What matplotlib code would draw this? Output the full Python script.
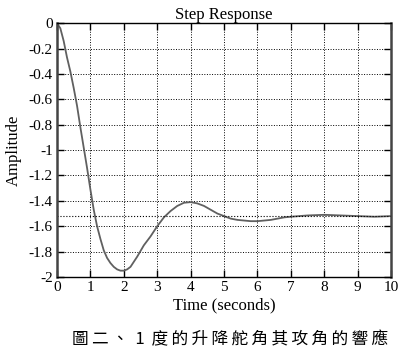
import matplotlib
matplotlib.use("Agg")
import matplotlib.pyplot as plt
from matplotlib.ticker import FormatStrFormatter

plt.rcParams['font.family'] = ['Liberation Serif', 'DejaVu Serif']
plt.rcParams['axes.unicode_minus'] = False

# step response samples
t = [0, 0.1, 0.2, 0.3, 0.4, 0.5, 0.6, 0.7, 0.8, 0.9, 1.0, 1.1, 1.2, 1.3, 1.4,
     1.5, 1.6, 1.7, 1.8, 1.9, 2.0, 2.1, 2.2, 2.4, 2.6, 2.8, 3.0, 3.2, 3.4, 3.6,
     3.8, 4.0, 4.2, 4.4, 4.6, 4.8, 5.0, 5.2, 5.4, 5.6, 5.8, 6.0, 6.2, 6.4, 6.6,
     6.8, 7.0, 7.5, 8.0, 8.5, 9.0, 9.5, 10]
y = [0, -0.04, -0.14, -0.27, -0.38, -0.51, -0.65, -0.82, -0.98, -1.14, -1.31,
     -1.47, -1.60, -1.70, -1.79, -1.85, -1.89, -1.92, -1.94, -1.95, -1.95,
     -1.94, -1.92, -1.84, -1.75, -1.68, -1.60, -1.53, -1.48, -1.44, -1.415,
     -1.41, -1.42, -1.44, -1.47, -1.50, -1.52, -1.54, -1.55, -1.555, -1.56,
     -1.56, -1.555, -1.55, -1.54, -1.53, -1.525, -1.515, -1.51, -1.515, -1.52,
     -1.525, -1.52]
steady = -1.52

xticks = list(range(0, 11))
yticks = [0, -0.2, -0.4, -0.6, -0.8, -1, -1.2, -1.4, -1.6, -1.8, -2]
caption = "圖二、1度的升降舵角其攻角的響應"

fig = plt.figure(figsize=(4.07, 3.55), dpi=100)
ax = fig.add_axes([0.140, 0.2197, 0.821, 0.715])

ax.plot(t, y, color='#606060', linewidth=1.3)
ax.axhline(steady, color='black', linestyle=':', linewidth=0.8)

ax.set_xlim(0, 10)
ax.set_ylim(-2, 0)
ax.set_xticks(xticks)
ax.set_yticks(yticks)
ax.yaxis.set_major_formatter(FormatStrFormatter('%g'))
ax.grid(True, color='black', linestyle=':', linewidth=0.7)
ax.tick_params(direction='in', top=True, right=True, length=5, width=1,
               labelsize=11, pad=3)
for s in ax.spines.values():
    s.set_linewidth(1.0)
ax.spines['left'].set_linewidth(1.8)
ax.spines['left'].set_color('#444444')
ax.spines['right'].set_linewidth(1.8)
ax.spines['right'].set_color('#444444')

ax.set_title("Step Response", fontsize=12, pad=3)
ax.set_xlabel("Time (seconds)", fontsize=12, labelpad=2)
ax.set_ylabel("Amplitude", fontsize=12, labelpad=5)

# letter-spaced caption under the chart
cap = '\u2009'.join(caption).replace('1', '\u20091\u2009')
fig.text(0.566, 0.042, cap, ha='center', va='center', fontsize=12,
         fontweight='medium', family=['Noto Sans CJK TC', 'DejaVu Sans'])

fig.savefig("out.png", dpi=100)
